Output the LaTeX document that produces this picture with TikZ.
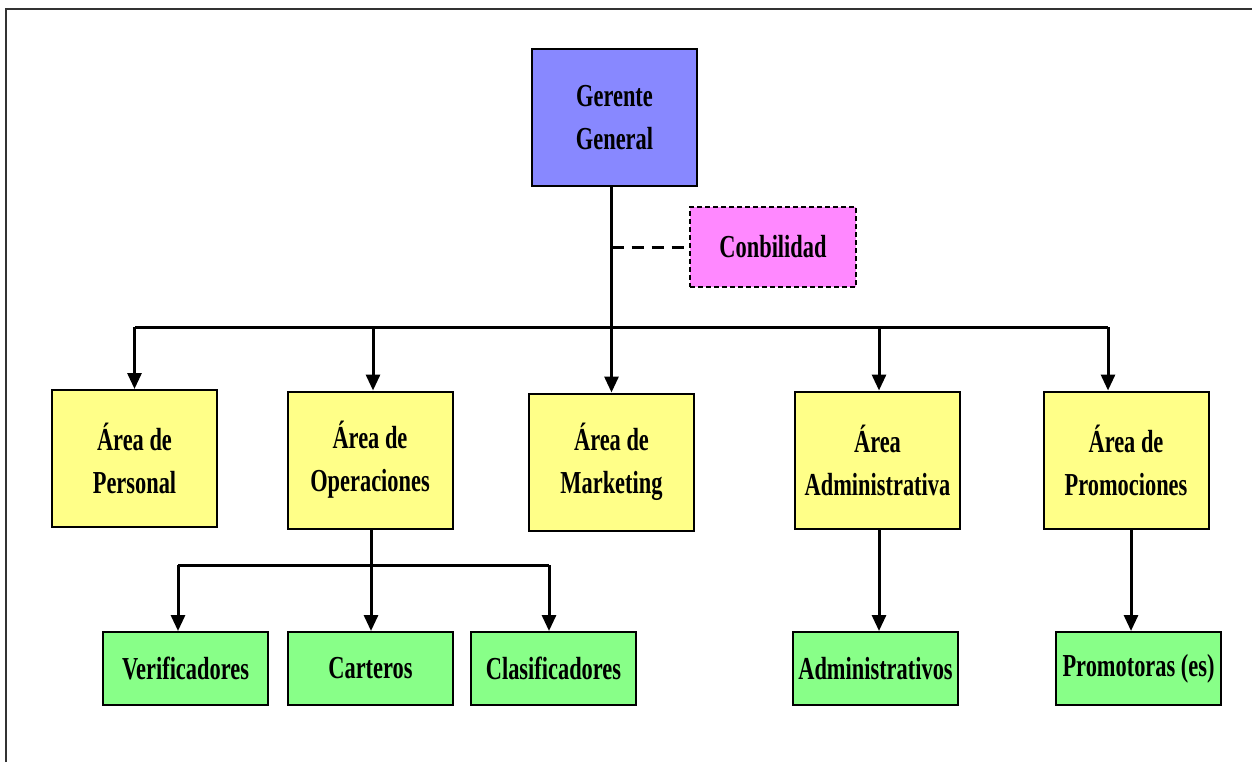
\documentclass[tikz,border=0pt]{standalone}
\usepackage{fontspec}
\usetikzlibrary{arrows.meta}
\newfontfamily\boxfont{Liberation Serif}[FakeStretch=0.7]
\definecolor{boss}{HTML}{8888FF}
\definecolor{advice}{HTML}{FF88FF}
\definecolor{area}{HTML}{FFFF88}
\definecolor{staff}{HTML}{88FF88}
\definecolor{frame}{HTML}{333333}
\begin{document}
\begin{tikzpicture}[x=0.5pt, y=-0.5pt,
  box/.style={draw=black, line width=1pt, align=center, inner sep=0pt,
    minimum width=82.5pt, font=\boxfont\bfseries\fontsize{16}{21.5}\selectfont},
  bossbox/.style={box, fill=boss, minimum height=68.5pt},
  advicebox/.style={box, fill=advice, dashed, dash pattern=on 2.5pt off 1.5pt,
    minimum width=83pt, minimum height=40pt},
  areabox/.style={box, fill=area, minimum height=68.5pt},
  staffbox/.style={box, fill=staff, minimum height=36.5pt},
  conn/.style={line width=1.5pt, black},
  arr/.style={conn, -{Triangle[width=7pt, length=8pt]}},
  dashlink/.style={conn, dash pattern=on 6pt off 4pt}]
\useasboundingbox (0,0) rectangle (1252,762);
% outer frame (top and left edges)
\draw[frame, line width=1.2pt] (6,762) -- (6,9) -- (1252,9);

% boxes
\node[bossbox]   (G)  at (614.5,117.5) {Gerente\\General};
\node[advicebox] (C)  at (773,247)     {Conbilidad};
\node[areabox]   (P)  at (134.5,458.5) {Área de\\Personal};
\node[areabox]   (O)  at (370,460)     {Área de\\Operaciones};
\node[areabox]   (M)  at (611.5,462)   {Área de\\Marketing};
\node[areabox]   (A)  at (877.5,460)   {Área\\Administrativa};
\node[areabox]   (Pr) at (1126,460)    {Área de\\Promociones};
\node[staffbox]  (V)  at (185.5,668.5) {Verificadores};
\node[staffbox]  (Ca) at (370.5,668.5) {Carteros};
\node[staffbox]  (Cl) at (553.5,668.5) {Clasificadores};
\node[staffbox]  (Ad) at (875.5,668.5) {Administrativos};
\node[staffbox]  (Pm) at (1138.5,668.5){Promotoras (es)};

% top-level bus
\coordinate (busL) at (135,327);
\coordinate (busR) at (1108,327);
\draw[conn] (busL) -- (busR);
\draw[arr] (G.south -| M.north) -- (M.north);
\draw[dashlink] (C.west -| M.north) -- (C.west);
\draw[arr] (P.north |- busL) -- (P.north);
\draw[arr] ([xshift=1.5pt]O.north |- busL) -- ([xshift=1.5pt]O.north);
\draw[arr] ([xshift=0.75pt]A.north |- busL) -- ([xshift=0.75pt]A.north);
\draw[arr] (busR) -- (busR |- Pr.north);

% operations bus
\coordinate (opL) at (178,565);
\coordinate (opR) at (549,565);
\draw[conn] (opL) -- (opR);
\draw[arr] ([xshift=0.5pt]O.south) -- ([xshift=0.5pt]O.south |- Ca.north);
\draw[arr] (opL) -- (opL |- V.north);
\draw[arr] (opR) -- (opR |- Cl.north);

% single reports
\draw[arr] ([xshift=0.75pt]A.south) -- ([xshift=0.75pt]A.south |- Ad.north);
\draw[arr] ([xshift=2.5pt]Pr.south) -- ([xshift=2.5pt]Pr.south |- Pm.north);
\end{tikzpicture}
\end{document}
